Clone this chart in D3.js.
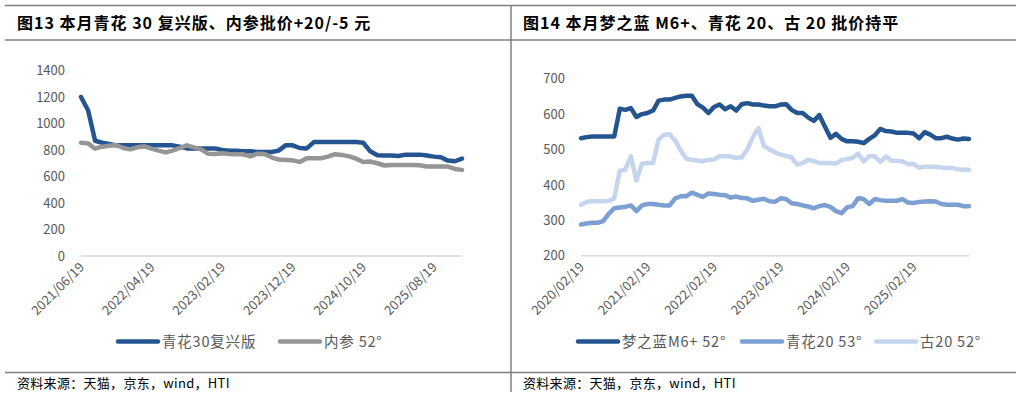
<!DOCTYPE html>
<html><head>
<meta charset="UTF-8">
<title>批价走势</title>
<style>
  body { margin: 0; padding: 0; background: #fff; }
  svg { display: block; font-family: "Noto Sans CJK SC", "Noto Sans", sans-serif; }
</style>
</head>
<body>
<svg id="chart" width="1022" height="398"></svg>
<script src="https://d3js.org/d3.v7.min.js"></script>
<script>
// ---- data ----
// 图13: monthly, 2021/06 .. 2025/12
const leftStart = "2021-06-19", leftEnd = "2025-12-19";
const leftTicks = ["2021/06/19", "2022/04/19", "2023/02/19", "2023/12/19", "2024/10/19", "2025/08/19"];
const qinghua30 = [1200, 1100, 870, 855, 845, 835, 835, 835, 835, 835, 835, 835, 835, 835,
  825, 812, 812, 812, 812, 812, 800, 795, 795, 790, 790, 785, 785, 785, 795, 835,
  835, 815, 812, 860, 860, 860, 860, 860, 860, 860, 855, 790, 760, 758, 758, 755,
  765, 765, 765, 758, 750, 745, 720, 715, 735];
const neican52 = [855, 850, 810, 825, 832, 838, 815, 805, 820, 828, 810, 795, 782, 795,
  815, 835, 820, 805, 772, 770, 775, 770, 767, 767, 752, 772, 770, 745, 728, 725,
  722, 710, 737, 737, 737, 750, 768, 763, 752, 735, 710, 713, 700, 683, 687, 687,
  687, 687, 685, 676, 675, 675, 675, 657, 650];

// 图14: monthly, 2020/02 .. 2025/12
const rightStart = "2020-02-19", rightEnd = "2025-12-19";
const rightTicks = ["2020/02/19", "2021/02/19", "2022/02/19", "2023/02/19", "2024/02/19", "2025/02/19"];
const mzlM6 = [532, 535, 537, 537, 537, 537, 537, 615, 612, 617, 592, 600, 603, 610,
  638, 641, 641, 646, 650, 652, 652, 628, 618, 603, 620, 627, 614, 622, 610, 628,
  631, 627, 627, 624, 622, 622, 627, 628, 612, 603, 603, 590, 581, 597, 565, 533,
  544, 530, 523, 523, 522, 518, 530, 540, 558, 552, 551, 547, 547, 547, 545, 532,
  549, 542, 532, 532, 536, 531, 528, 531, 530];
const qinghua20 = [288, 291, 293, 293, 298, 318, 334, 336, 338, 342, 326, 342, 346, 346,
  344, 342, 342, 362, 368, 368, 378, 372, 366, 376, 374, 372, 371, 364, 367, 363,
  362, 355, 358, 361, 354, 352, 362, 360, 348, 346, 342, 339, 334, 340, 343, 338,
  326, 320, 337, 340, 362, 360, 346, 360, 357, 355, 355, 355, 360, 350, 349, 352,
  353, 354, 353, 346, 344, 344, 344, 340, 340];
const gu20 = [344, 352, 354, 354, 354, 355, 362, 440, 443, 481, 412, 460, 462, 462,
  528, 542, 543, 525, 497, 474, 471, 469, 467, 471, 472, 481, 481, 480, 476, 478,
  500, 535, 560, 510, 500, 492, 485, 482, 478, 457, 462, 471, 467, 462, 462, 462,
  460, 470, 473, 476, 488, 466, 481, 481, 465, 480, 468, 468, 466, 459, 459, 449,
  451, 451, 451, 449, 448, 448, 444, 443, 443];

const parse = d3.timeParse("%Y-%m-%d");
const fmt = d3.timeFormat("%Y/%m/%d");
function months(a, b) {
  const start = d3.timeMonth.floor(parse(a));
  const end = d3.timeDay.offset(parse(b), 1);
  return d3.timeMonth.range(start, end).map(d => fmt(d3.timeDay.offset(d, 18)));
}
const leftCats = months(leftStart, leftEnd);
const rightCats = months(rightStart, rightEnd);

const svg = d3.select("#chart");
const frame = "#7f7f7f";
const tickColor = "#595959";

// ---- frames ----
svg.append("line").attr("x1", 5).attr("x2", 1016).attr("y1", 5.5).attr("y2", 5.5)
  .attr("stroke", frame).attr("stroke-width", 1.5);
svg.append("line").attr("x1", 5).attr("x2", 1016).attr("y1", 40).attr("y2", 40)
  .attr("stroke", frame).attr("stroke-width", 1.5);
svg.append("line").attr("x1", 5).attr("x2", 1016).attr("y1", 372.5).attr("y2", 372.5)
  .attr("stroke", frame).attr("stroke-width", 1.5);
svg.append("line").attr("x1", 511).attr("x2", 511).attr("y1", 5).attr("y2", 392)
  .attr("stroke", frame).attr("stroke-width", 1.5);

function drawPanel(o) {
  const g = svg.append("g");
  g.append("text").attr("x", o.titleX).attr("y", 29)
    .attr("font-size", 16).attr("font-weight", "bold").attr("fill", "#000")
    .attr("letter-spacing", 1)
    .text(o.title);
  g.append("text").attr("x", o.titleX).attr("y", 388)
    .attr("font-size", 13).attr("fill", "#000").attr("letter-spacing", 0.3)
    .text("资料来源：天猫，京东，wind，HTI");

  const x = d3.scalePoint().domain(o.cats).range(o.xr);
  const y = d3.scaleLinear().domain(o.yd).range(o.yr);

  // y axis labels
  const ya = g.append("g").attr("transform", `translate(${o.yLabelX},0)`)
    .call(d3.axisLeft(y).tickValues(d3.range(o.yd[0], o.yd[1] + 1, o.yStep))
      .tickFormat(d3.format("d")).tickSize(0).tickPadding(0));
  ya.select(".domain").remove();
  ya.selectAll("text").attr("fill", tickColor).attr("font-size", 13)
    .attr("font-family", "'Noto Sans CJK SC', sans-serif");

  // baseline
  g.append("line").attr("x1", o.xr[0]).attr("x2", o.xr[1])
    .attr("y1", y(o.yd[0])).attr("y2", y(o.yd[0]))
    .attr("stroke", "#d9d9d9").attr("stroke-width", 1.5);

  // x labels
  g.selectAll(".xl").data(o.ticks).join("text")
    .attr("class", "xl")
    .attr("transform", d => `translate(${x(d) + 4},${y(o.yd[0]) + 12}) rotate(-45)`)
    .attr("text-anchor", "end").attr("font-size", 13).attr("fill", tickColor)
    .text(d => d);

  const line = d3.line().x((d, i) => x(o.cats[i])).y(d => y(d)).curve(d3.curveLinear);
  o.series.forEach(s => {
    g.append("path").datum(s.values).attr("d", line)
      .attr("fill", "none").attr("stroke", s.color).attr("stroke-width", 4.5)
      .attr("stroke-linejoin", "round").attr("stroke-linecap", "round");
  });

  // legend
  o.series.forEach(s => {
    g.append("line").attr("x1", s.lx).attr("x2", s.lx + 40).attr("y1", 341.5).attr("y2", 341.5)
      .attr("stroke", s.color).attr("stroke-width", 4.5).attr("stroke-linecap", "round");
    g.append("text").attr("x", s.lx + 44).attr("y", 346.5)
      .attr("font-size", 14.5).attr("letter-spacing", 0.8).attr("fill", tickColor).text(s.name);
  });
}

drawPanel({
  title: "图13 本月青花 30 复兴版、内参批价+20/-5 元",
  titleX: 17,
  cats: leftCats,
  ticks: leftTicks,
  xr: [81, 462],
  yd: [0, 1400], yr: [256, 70.5], yStep: 200,
  yLabelX: 65,
  series: [
    { name: "青花30复兴版", values: qinghua30, color: "#255591", lx: 118 },
    { name: "内参 52°", values: neican52, color: "#959595", lx: 280 }
  ]
});

drawPanel({
  title: "图14 本月梦之蓝 M6+、青花 20、古 20 批价持平",
  titleX: 523,
  cats: rightCats,
  ticks: rightTicks,
  xr: [581, 969],
  yd: [200, 700], yr: [255.7, 78.7], yStep: 100,
  yLabelX: 565,
  series: [
    { name: "梦之蓝M6+ 52°", values: mzlM6, color: "#255591", lx: 578 },
    { name: "青花20 53°", values: qinghua20, color: "#7e9fd3", lx: 742 },
    { name: "古20 52°", values: gu20, color: "#c5d5ed", lx: 876 }
  ]
});
</script>
</body></html>
